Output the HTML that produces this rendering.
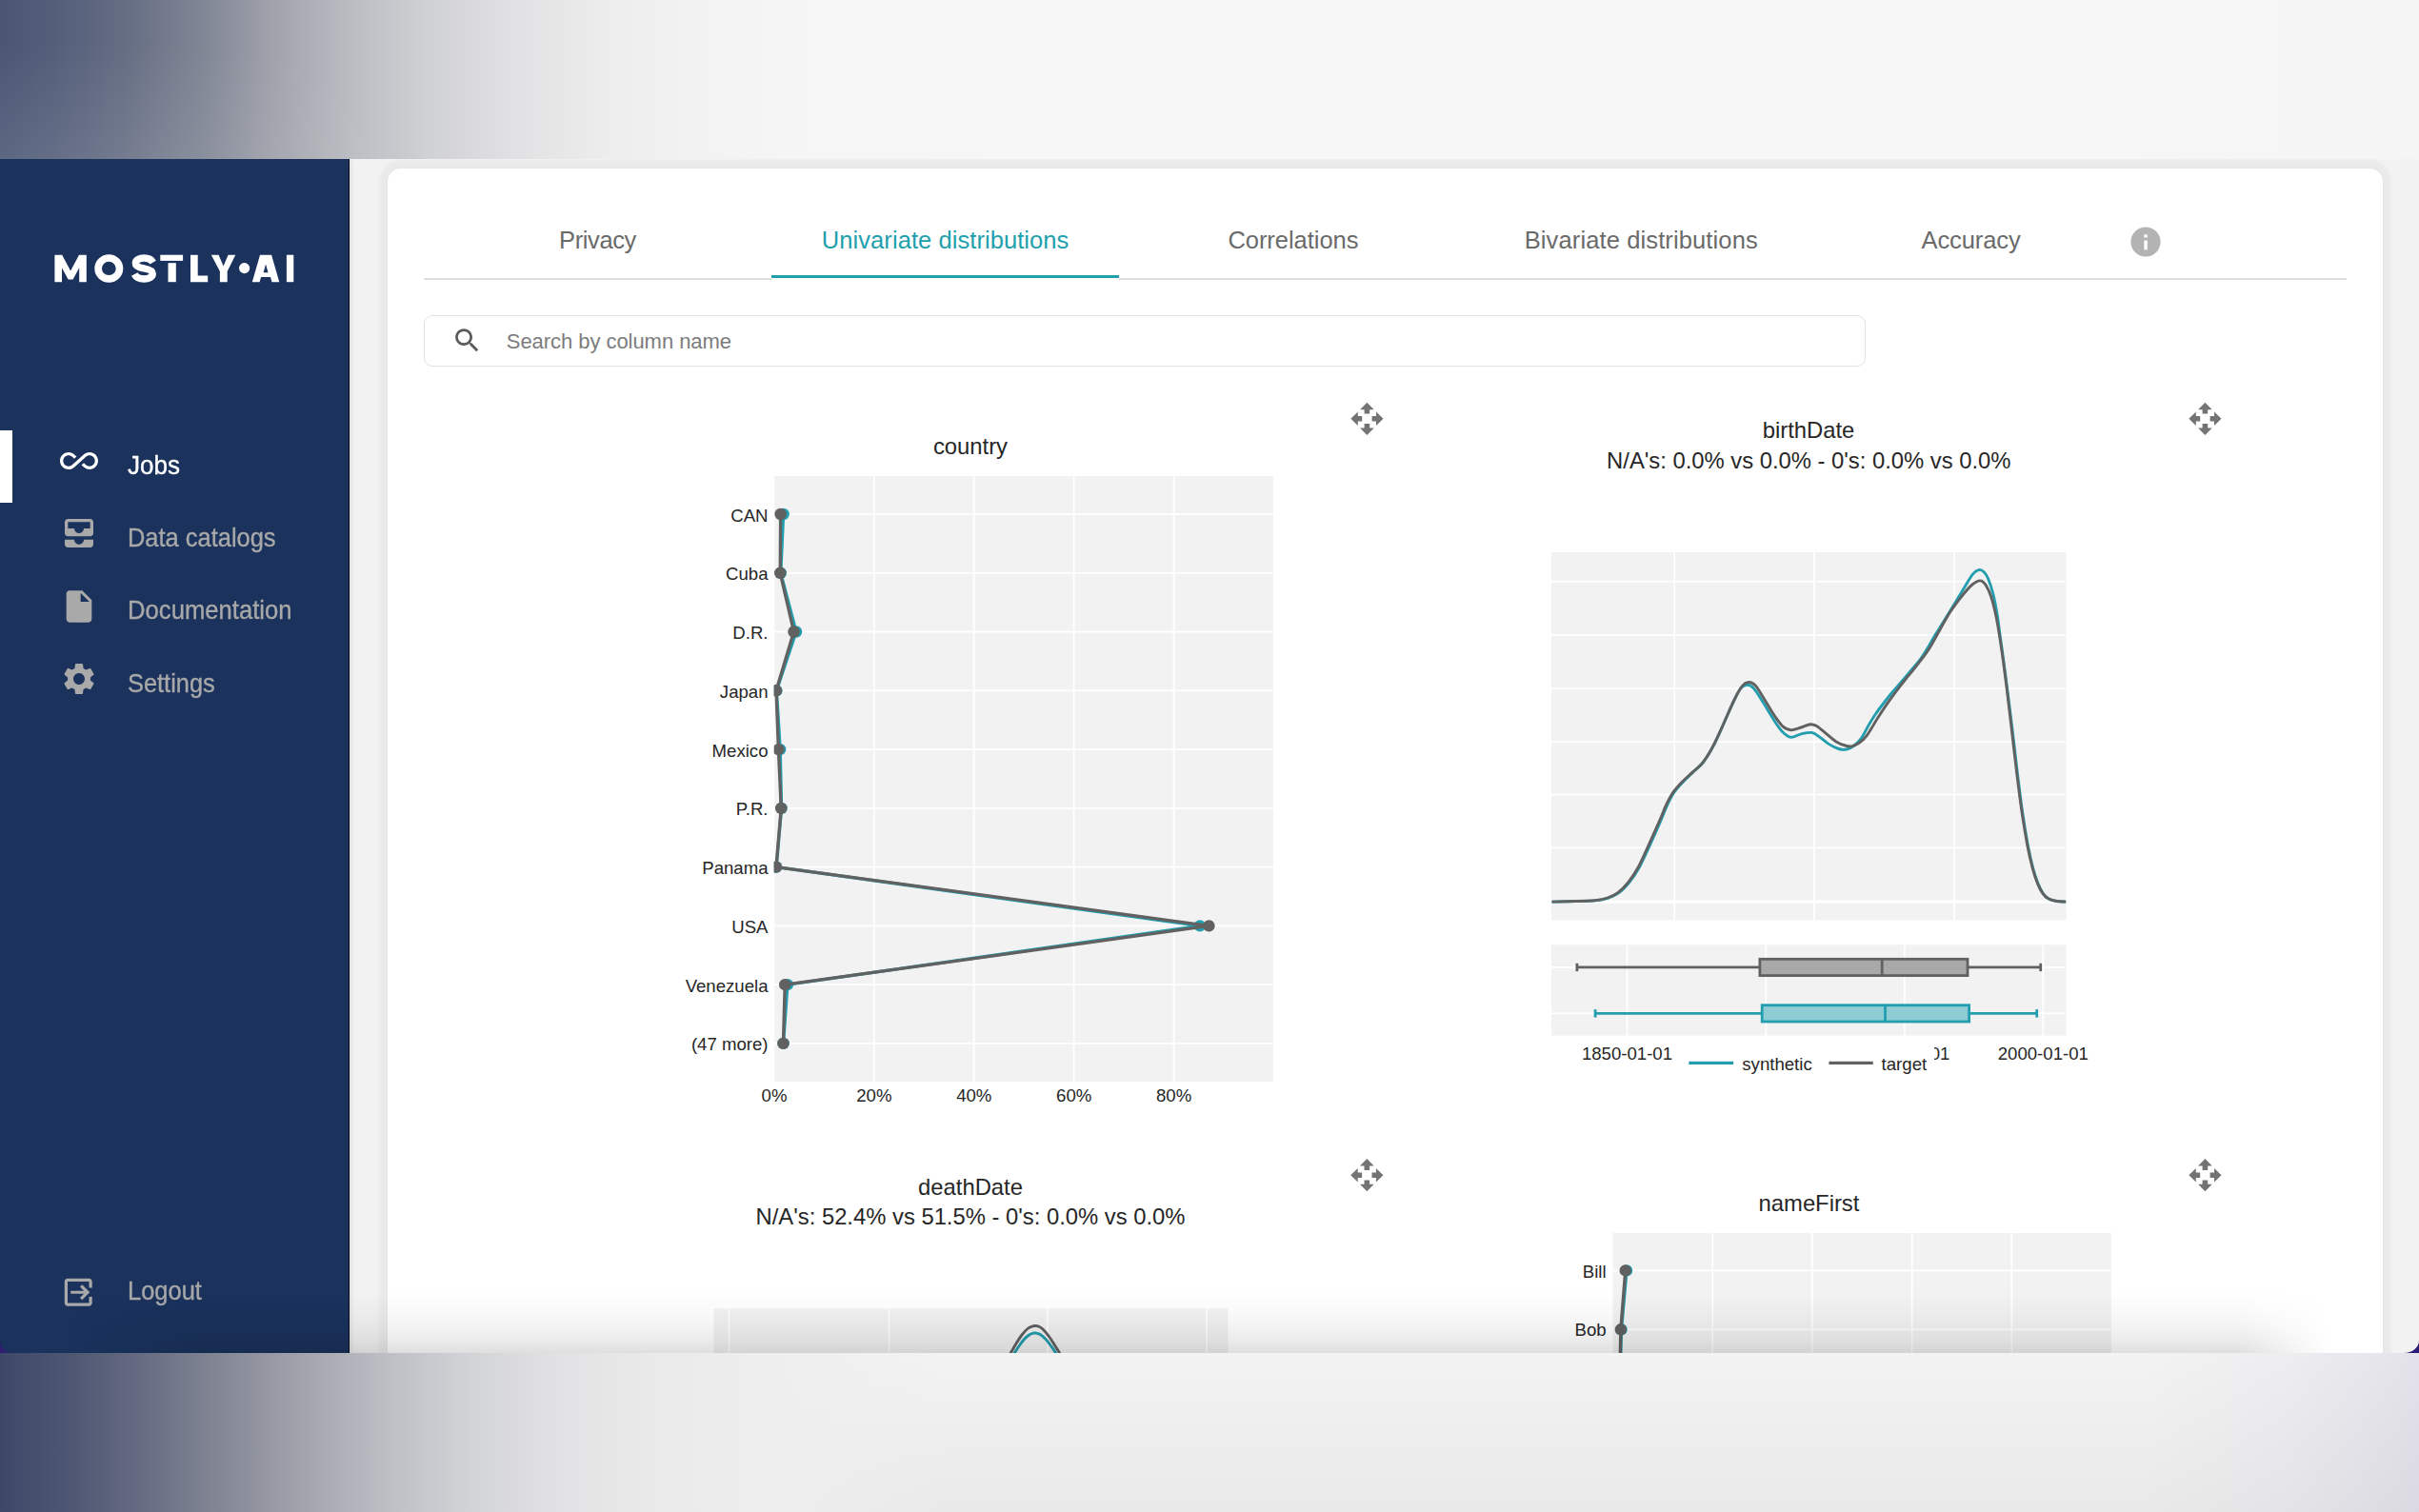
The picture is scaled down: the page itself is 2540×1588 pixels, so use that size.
<!DOCTYPE html>
<html>
<head>
<meta charset="utf-8">
<title>MOSTLY AI - Univariate distributions</title>
<style>
html,body{margin:0;padding:0;}
body{width:2540px;height:1588px;position:relative;overflow:hidden;background:#f1f1f1;font-family:"Liberation Sans",sans-serif;}
.abs{position:absolute;}
#app{position:absolute;left:0;top:167px;width:2540px;height:1254px;background:#f2f2f2;overflow:hidden;}
#topband{position:absolute;left:0;top:0;width:2540px;height:167px;
 background:linear-gradient(90deg,#4a5674 0px,#545f7a 60px,#656d83 130px,#7f8594 210px,#a2a4ad 290px,#bcbdc3 370px,#d0d1d4 450px,#e1e1e3 540px,#ececed 630px,#f2f2f2 720px,#f6f6f6 850px,#f7f7f7 1100px,#f7f7f7 2200px,#f5f5f5 2540px);}
#botband{position:absolute;left:0;top:1421px;width:2540px;height:167px;
 background:linear-gradient(90deg,rgba(90,80,160,0) 2250px,rgba(90,80,160,0.035) 2400px,rgba(90,80,160,0.10) 2540px),
 linear-gradient(90deg,#3d4768 0px,#4d5672 70px,#666c82 150px,#868a97 240px,#a3a5ae 320px,#bebfc5 408px,#d3d4d7 498px,#e2e2e4 588px,#eaeaeb 690px,#eeeeee 810px,rgba(238,238,238,0) 1000px),
 linear-gradient(180deg,#f3f3f3 0%,#e9e9e9 100%);}
#sidebar{position:absolute;left:0;top:0;width:367px;height:1254px;background:#1a325c;box-shadow:inset -1px 0 0 #050c22,2px 0 4px rgba(0,0,0,0.09);}
.nav{position:absolute;left:133.5px;-webkit-text-stroke:0.35px currentColor;transform-origin:0 50%;font-size:27.6px;color:#a8a8a8;white-space:nowrap;line-height:30px;}
.nav.on{color:#fff;}
.ico{position:absolute;width:40px;height:40px;left:62.5px;}
.ico svg{width:40px;height:40px;display:block;}
#card{position:absolute;left:407px;top:10px;width:2095px;height:1300px;background:#fff;border-radius:14px;box-shadow:0 0 3px 9px rgba(0,0,0,0.03),0 0 3px rgba(0,0,0,0.05);}
.tab{position:absolute;font-size:25.5px;color:#6a6a6a;white-space:nowrap;line-height:30px;transform-origin:0 0;}
.ct{position:absolute;color:#262626;white-space:nowrap;text-align:center;}
.tk{position:absolute;color:#262626;white-space:nowrap;font-size:18.6px;line-height:20px;}
</style>
</head>
<body>
<div id="topband"><div class="abs" style="left:0;top:0;width:420px;height:167px;background:linear-gradient(180deg,rgba(255,255,255,0) 25%,rgba(255,255,255,0.10) 100%);-webkit-mask-image:linear-gradient(90deg,#000 0px,#000 160px,transparent 420px);mask-image:linear-gradient(90deg,#000 0px,#000 160px,transparent 420px)"></div></div>
<div id="app">
  <div id="sidebar">
    <svg class="abs" style="left:0;top:0" width="367" height="200" viewBox="0 167 367 200">
      <g fill="#fff">
        <path d="M57.4,296.2V267.7H65.2L74.1,284.5L83,267.7H90.8V296.2H83.2V281.2L76.6,293.5H71.6L65,281.2V296.2Z"/>
        <ellipse cx="114.3" cy="281.95" rx="11.2" ry="10.9" fill="none" stroke="#fff" stroke-width="7.6"/>
        <path d="M160.6,275.6C158.8,272.6 155.6,271.1 151.3,271.1C146.2,271.1 142.4,273.2 142.4,276.6C142.4,279.6 144.8,280.9 151,281.9C157.4,283 160.2,284.4 160.2,287.6C160.2,291 156.5,293 151.2,293C146.4,293 143,291.3 141.2,288" fill="none" stroke="#fff" stroke-width="7.5"/>
        <rect x="168.3" y="267.7" width="23.8" height="6.2"/>
        <rect x="176.5" y="276.2" width="8.3" height="20"/>
        <path d="M200,267.7H207.7V289.5H218.2V296.2H200Z"/>
        <path d="M221.8,267.7H229.6L234.6,279.5L239.6,267.7H247.3L238.7,285V296.2H230.9V285Z"/>
        <circle cx="256.6" cy="281.6" r="5.6"/>
        <path fill-rule="evenodd" d="M264.8,296.2L273,267.7H285.1L293.3,296.2H285.5L284,291H274.1L272.6,296.2ZM279.05,277.6L276.6,286.2H281.5Z"/>
        <rect x="300.9" y="267.7" width="7.4" height="28.5"/>
      </g>
    </svg>
    <div class="abs" style="left:0;top:285px;width:13px;height:76px;background:#fff"></div>
    <div class="ico" style="top:296.8px"><svg viewBox="0 0 24 24" fill="#fff"><path d="M18.6 6.62c-1.44 0-2.8.56-3.77 1.53L12 10.66 10.48 12h.01L7.8 14.39c-.64.64-1.49.99-2.4.99-1.87 0-3.39-1.51-3.39-3.38S3.53 8.62 5.4 8.62c.91 0 1.76.35 2.44 1.03l1.13 1 1.51-1.34L9.22 8.2C8.2 7.18 6.84 6.62 5.4 6.62 2.42 6.62 0 9.04 0 12s2.42 5.38 5.4 5.38c1.44 0 2.8-.56 3.77-1.53l2.83-2.5.01.01L13.52 12h-.01l2.69-2.39c.64-.64 1.49-.99 2.4-.99 1.87 0 3.39 1.51 3.39 3.38s-1.52 3.38-3.39 3.38c-.9 0-1.76-.35-2.44-1.03l-1.14-1.01-1.51 1.34 1.27 1.12c1.02 1.01 2.37 1.57 3.82 1.57 2.98 0 5.4-2.41 5.4-5.38s-2.42-5.37-5.4-5.37z"/></svg></div>
    <div class="nav on" style="top:306.7px;transform:scaleX(0.943)">Jobs</div>
    <div class="ico" style="top:372.9px"><svg viewBox="0 0 24 24" fill="#a9a9a9"><path d="M19 3H5c-1.1 0-2 .9-2 2v7c0 1.1.9 2 2 2h14c1.1 0 2-.9 2-2V5c0-1.1-.9-2-2-2zm0 6h-4c0 1.62-1.38 3-3 3s-3-1.38-3-3H5V5h14v4zm-4 7h6v3c0 1.1-.9 2-2 2H5c-1.1 0-2-.9-2-2v-3h6c0 1.66 1.34 3 3 3s3-1.34 3-3z"/></svg></div>
    <div class="nav" style="top:382.8px;transform:scaleX(0.922)">Data catalogs</div>
    <div class="ico" style="top:449.5px"><svg viewBox="0 0 24 24" fill="#a9a9a9"><path d="M6 2c-1.1 0-1.99.9-1.99 2L4 20c0 1.1.89 2 1.99 2H18c1.1 0 2-.9 2-2V8l-6-6H6zm7 7V3.5L18.5 9H13z"/></svg></div>
    <div class="nav" style="top:458.8px;transform:scaleX(0.93)">Documentation</div>
    <div class="ico" style="top:525.5px"><svg viewBox="0 0 24 24" fill="#a9a9a9"><path d="M19.14 12.94c.04-.3.06-.61.06-.94 0-.32-.02-.64-.07-.94l2.03-1.58c.18-.14.23-.41.12-.61l-1.92-3.32c-.12-.22-.37-.29-.59-.22l-2.39.96c-.5-.38-1.03-.7-1.62-.94l-.36-2.54c-.04-.24-.24-.41-.48-.41h-3.84c-.24 0-.43.17-.47.41l-.36 2.54c-.59.24-1.13.57-1.62.94l-2.39-.96c-.22-.08-.47 0-.59.22L2.74 8.87c-.12.21-.08.47.12.61l2.03 1.58c-.05.3-.09.63-.09.94s.02.64.07.94l-2.03 1.58c-.18.14-.23.41-.12.61l1.92 3.32c.12.22.37.29.59.22l2.39-.96c.5.38 1.03.7 1.62.94l.36 2.54c.05.24.24.41.48.41h3.84c.24 0 .44-.17.47-.41l.36-2.54c.59-.24 1.13-.56 1.62-.94l2.39.96c.22.08.47 0 .59-.22l1.92-3.32c.12-.22.07-.47-.12-.61l-2.01-1.58zM12 15.6c-1.98 0-3.6-1.62-3.6-3.6s1.62-3.6 3.6-3.6 3.6 1.62 3.6 3.6-1.62 3.6-3.6 3.6z"/></svg></div>
    <div class="nav" style="top:535.5px;transform:scaleX(0.92)">Settings</div>
    <div class="ico" style="top:1171px;left:63.4px"><svg viewBox="0 0 24 24" fill="#a9a9a9" style="width:38.5px;height:38.5px"><path d="M19 3H5c-1.1 0-2 .9-2 2v14c0 1.1.9 2 2 2h14c1.1 0 2-.9 2-2v-4h-2v4H5V5h14v4h2V5c0-1.1-.9-2-2-2z"/><path d="M13.09 15.59L14.5 17l5-5-5-5-1.41 1.41L15.67 11H7v2h8.67l-2.58 2.59z"/></svg></div>
    <div class="nav" style="top:1173.5px;transform:scaleX(0.923)">Logout</div>
  </div>
  <div id="card">
    <!-- tabs -->
    <div class="abs" style="left:38px;top:115.2px;width:365px;height:2px;background:#dedede"></div>
    <div class="abs" style="left:768px;top:115.2px;width:1289px;height:2px;background:#dedede"></div>
    <div class="abs" style="left:403px;top:111.9px;width:365px;height:3.1px;background:#219fad"></div>
    <div class="tab" id="t1" style="left:180px;top:60.1px;letter-spacing:-0.38px">Privacy</div>
    <div class="tab" id="t2" style="left:455.8px;top:60.1px;letter-spacing:0.07px;color:#219fad">Univariate distributions</div>
    <div class="tab" id="t3" style="left:882.4px;top:60.1px;letter-spacing:-0.04px">Correlations</div>
    <div class="tab" id="t4" style="left:1193.7px;top:60.1px;letter-spacing:0.12px">Bivariate distributions</div>
    <div class="tab" id="t5" style="left:1610.5px;top:60.1px;letter-spacing:-0.1px">Accuracy</div>
    <svg class="abs" style="left:1829.5px;top:60.6px" width="32" height="32" viewBox="0 0 32 32"><circle cx="16" cy="16" r="15.6" fill="#b3b3b3"/><rect x="14.3" y="14.6" width="3.5" height="9.7" fill="#fff"/><rect x="14.3" y="8.3" width="3.5" height="3.2" fill="#fff"/></svg>
    <!-- search -->
    <div class="abs" style="left:38px;top:154px;width:1512px;height:52px;border:1.5px solid #e2e2e2;border-radius:9px;box-sizing:content-box"></div>
    <svg class="abs" style="left:67.3px;top:164.1px" width="33" height="33" viewBox="0 0 24 24" fill="#5a5a5a"><path d="M15.5 14h-.79l-.28-.27C15.41 12.59 16 11.11 16 9.5 16 5.91 13.09 3 9.5 3S3 5.91 3 9.5 5.91 16 9.5 16c1.61 0 3.09-.59 4.23-1.57l.27.28v.79l5 4.99L20.49 19l-4.99-5zm-6 0C7.01 14 5 11.99 5 9.500000000000002S7.01 5 9.500000000000002 5 14 7.01 14 9.500000000000002 11.99 14 9.5 14z"/></svg>
    <div class="tab" id="ph" style="left:124.8px;top:168.6px;font-size:22px;color:#7c7c7c;line-height:26px;letter-spacing:-0.05px">Search by column name</div>
    <svg class="abs" style="left:-407px;top:-10px" width="2540" height="1254" viewBox="0 167 2540 1254" font-family="Liberation Sans, sans-serif"><rect x="812.7" y="500" width="524.3" height="636" fill="#f2f2f2"/><rect x="916.90" y="500" width="1.8" height="636" fill="#fff"/><rect x="1021.70" y="500" width="1.8" height="636" fill="#fff"/><rect x="1126.70" y="500" width="1.8" height="636" fill="#fff"/><rect x="1231.70" y="500" width="1.8" height="636" fill="#fff"/><rect x="812.7" y="539.10" width="524.3" height="1.8" fill="#fff"/><rect x="812.7" y="600.87" width="524.3" height="1.8" fill="#fff"/><rect x="812.7" y="662.64" width="524.3" height="1.8" fill="#fff"/><rect x="812.7" y="724.41" width="524.3" height="1.8" fill="#fff"/><rect x="812.7" y="786.18" width="524.3" height="1.8" fill="#fff"/><rect x="812.7" y="847.95" width="524.3" height="1.8" fill="#fff"/><rect x="812.7" y="909.72" width="524.3" height="1.8" fill="#fff"/><rect x="812.7" y="971.49" width="524.3" height="1.8" fill="#fff"/><rect x="812.7" y="1033.26" width="524.3" height="1.8" fill="#fff"/><rect x="812.7" y="1095.03" width="524.3" height="1.8" fill="#fff"/><rect x="812.10" y="500" width="1.2" height="636" fill="#fff"/><clipPath id="cp1"><rect x="812.7" y="500" width="524.3" height="636"/></clipPath><g clip-path="url(#cp1)"><polyline points="822.6,540.0 819.8,601.8 836.0,663.5 815.4,725.3 819.2,787.1 820.6,848.9 815.2,910.6 1259.9,972.4 826.9,1034.2 822.6,1095.9" fill="none" stroke="#229eae" stroke-width="3.3" stroke-linejoin="round" stroke-linecap="round"/><circle cx="822.6" cy="540.0" r="6.2" fill="#229eae"/><circle cx="819.8" cy="601.8" r="6.2" fill="#229eae"/><circle cx="836.0" cy="663.5" r="6.2" fill="#229eae"/><circle cx="815.4" cy="725.3" r="6.2" fill="#229eae"/><circle cx="819.2" cy="787.1" r="6.2" fill="#229eae"/><circle cx="820.6" cy="848.9" r="6.2" fill="#229eae"/><circle cx="815.2" cy="910.6" r="6.2" fill="#229eae"/><circle cx="1259.9" cy="972.4" r="6.2" fill="#229eae"/><circle cx="826.9" cy="1034.2" r="6.2" fill="#229eae"/><circle cx="822.6" cy="1095.9" r="6.2" fill="#229eae"/><polyline points="819.6,540.0 819.2,601.8 833.5,663.5 815.0,725.3 817.4,787.1 820.2,848.9 815.0,910.6 1269.4,972.4 824.2,1034.2 822.4,1095.9" fill="none" stroke="#616161" stroke-width="3.3" stroke-linejoin="round" stroke-linecap="round"/><circle cx="819.6" cy="540.0" r="6.2" fill="#616161"/><circle cx="819.2" cy="601.8" r="6.2" fill="#616161"/><circle cx="833.5" cy="663.5" r="6.2" fill="#616161"/><circle cx="815.0" cy="725.3" r="6.2" fill="#616161"/><circle cx="817.4" cy="787.1" r="6.2" fill="#616161"/><circle cx="820.2" cy="848.9" r="6.2" fill="#616161"/><circle cx="815.0" cy="910.6" r="6.2" fill="#616161"/><circle cx="1269.4" cy="972.4" r="6.2" fill="#616161"/><circle cx="824.2" cy="1034.2" r="6.2" fill="#616161"/><circle cx="822.4" cy="1095.9" r="6.2" fill="#616161"/></g><text x="806.5" y="547.5" font-size="18.6" text-anchor="end" fill="#262626" >CAN</text><text x="806.5" y="609.27" font-size="18.6" text-anchor="end" fill="#262626" >Cuba</text><text x="806.5" y="671.04" font-size="18.6" text-anchor="end" fill="#262626" >D.R.</text><text x="806.5" y="732.81" font-size="18.6" text-anchor="end" fill="#262626" >Japan</text><text x="806.5" y="794.58" font-size="18.6" text-anchor="end" fill="#262626" >Mexico</text><text x="806.5" y="856.35" font-size="18.6" text-anchor="end" fill="#262626" >P.R.</text><text x="806.5" y="918.12" font-size="18.6" text-anchor="end" fill="#262626" >Panama</text><text x="806.5" y="979.8900000000001" font-size="18.6" text-anchor="end" fill="#262626" >USA</text><text x="806.5" y="1041.66" font-size="18.6" text-anchor="end" fill="#262626" >Venezuela</text><text x="806.5" y="1103.43" font-size="18.6" text-anchor="end" fill="#262626" >(47 more)</text><text x="813.0" y="1156.8" font-size="18.6" text-anchor="middle" fill="#262626" >0%</text><text x="917.9" y="1156.8" font-size="18.6" text-anchor="middle" fill="#262626" >20%</text><text x="1022.8" y="1156.8" font-size="18.6" text-anchor="middle" fill="#262626" >40%</text><text x="1127.7" y="1156.8" font-size="18.6" text-anchor="middle" fill="#262626" >60%</text><text x="1232.6" y="1156.8" font-size="18.6" text-anchor="middle" fill="#262626" >80%</text><text x="1019" y="477" font-size="23.8" text-anchor="middle" fill="#262626" >country</text><g transform="translate(1435.4,439.8)" fill="#737373"><path transform="rotate(0)" d="M0,-17.1L7.3,-9.6H2.8V-5.2H-2.8V-9.6H-7.3Z"/><path transform="rotate(90)" d="M0,-17.1L7.3,-9.6H2.8V-5.2H-2.8V-9.6H-7.3Z"/><path transform="rotate(180)" d="M0,-17.1L7.3,-9.6H2.8V-5.2H-2.8V-9.6H-7.3Z"/><path transform="rotate(270)" d="M0,-17.1L7.3,-9.6H2.8V-5.2H-2.8V-9.6H-7.3Z"/></g>
<rect x="1629" y="580" width="540.5" height="386.5" fill="#f2f2f2"/><rect x="1757.30" y="580" width="1.8" height="386.5" fill="#fff"/><rect x="1904.00" y="580" width="1.8" height="386.5" fill="#fff"/><rect x="2051.10" y="580" width="1.8" height="386.5" fill="#fff"/><rect x="1629" y="609.80" width="540.5" height="1.8" fill="#fff"/><rect x="1629" y="666.00" width="540.5" height="1.8" fill="#fff"/><rect x="1629" y="722.30" width="540.5" height="1.8" fill="#fff"/><rect x="1629" y="778.30" width="540.5" height="1.8" fill="#fff"/><rect x="1629" y="833.70" width="540.5" height="1.8" fill="#fff"/><rect x="1629" y="889.50" width="540.5" height="1.8" fill="#fff"/><rect x="1629" y="945.50" width="540.5" height="3.2" fill="#fff"/><clipPath id="cp2"><rect x="1629" y="580" width="540.5" height="386.5"/></clipPath><g clip-path="url(#cp2)"><path d="M1629.5,947.1C1632.4,947.0 1639.5,946.9 1647.0,946.7C1654.5,946.5 1667.4,946.5 1674.3,945.9C1681.2,945.3 1684.1,944.6 1688.3,943.3C1692.5,942.0 1695.8,940.6 1699.5,937.9C1703.2,935.2 1706.8,931.5 1710.5,927.0C1714.2,922.5 1717.8,917.3 1721.4,910.7C1725.1,904.1 1728.8,895.5 1732.4,887.6C1736.1,879.7 1740.2,870.4 1743.3,863.2C1746.4,856.0 1748.8,849.6 1751.2,844.5C1753.6,839.4 1755.2,836.1 1757.8,832.3C1760.4,828.4 1763.7,824.9 1767.0,821.4C1770.3,817.9 1774.1,814.6 1777.6,811.2C1781.1,807.8 1784.6,805.6 1788.2,801.0C1791.8,796.4 1795.5,790.1 1799.1,783.4C1802.7,776.6 1806.2,768.3 1809.7,760.5C1813.2,752.7 1817.4,742.7 1820.4,736.5C1823.4,730.3 1825.2,726.3 1827.5,723.4C1829.8,720.5 1832.0,719.3 1834.3,719.2C1836.6,719.1 1838.6,719.9 1841.5,723.0C1844.4,726.1 1848.0,732.5 1851.5,738.0C1855.0,743.5 1859.2,750.9 1862.5,756.0C1865.8,761.1 1868.5,765.5 1871.5,768.5C1874.5,771.5 1877.2,773.9 1880.5,774.3C1883.8,774.7 1887.7,771.6 1891.3,770.8C1894.9,770.0 1899.2,769.0 1902.2,769.4C1905.2,769.8 1906.1,770.9 1909.0,772.9C1911.9,774.9 1916.2,778.8 1919.8,781.1C1923.4,783.4 1927.5,785.5 1930.7,786.5C1933.9,787.5 1936.1,787.6 1938.8,787.0C1941.5,786.4 1944.4,785.0 1947.0,783.0C1949.6,781.0 1952.1,778.5 1954.6,775.0C1957.1,771.5 1959.5,766.1 1961.9,762.0C1964.3,757.9 1966.5,754.2 1969.0,750.5C1971.5,746.8 1973.7,743.9 1976.7,740.0C1979.7,736.1 1983.6,731.1 1987.0,727.0C1990.4,722.9 1993.7,719.4 1997.0,715.5C2000.3,711.6 2003.7,707.7 2007.0,703.7C2010.3,699.7 2014.0,695.6 2017.0,691.5C2020.0,687.4 2022.5,683.0 2025.0,679.0C2027.5,675.0 2029.0,671.7 2031.7,667.3C2034.4,662.9 2038.0,657.4 2041.0,652.5C2044.0,647.6 2047.0,642.8 2049.9,638.0C2052.8,633.2 2056.2,627.6 2058.4,624.0C2060.6,620.4 2060.8,620.0 2063.0,616.4C2065.2,612.8 2069.2,605.6 2071.8,602.6C2074.4,599.6 2076.5,598.7 2078.4,598.4C2080.3,598.1 2081.9,599.5 2083.4,601.0C2084.9,602.5 2086.0,603.8 2087.6,607.7C2089.2,611.6 2091.4,618.0 2093.0,624.5C2094.6,631.0 2096.1,639.2 2097.3,646.5C2098.5,653.8 2099.1,660.1 2100.2,668.0C2101.3,675.9 2102.6,685.0 2103.8,694.0C2105.0,703.0 2105.9,709.5 2107.5,722.0C2109.1,734.5 2111.4,753.5 2113.3,769.0C2115.2,784.5 2116.9,800.6 2118.7,815.0C2120.5,829.4 2122.2,843.3 2124.0,855.5C2125.8,867.7 2127.6,878.5 2129.4,888.0C2131.2,897.5 2133.0,905.5 2134.8,912.2C2136.6,918.9 2138.3,924.0 2140.1,928.4C2141.9,932.8 2143.6,936.0 2145.4,938.6C2147.2,941.2 2148.5,942.4 2150.7,943.7C2152.9,945.0 2155.7,945.8 2158.8,946.4C2161.9,947.0 2167.6,947.0 2169.4,947.1" fill="none" stroke="#229eae" stroke-width="2.9" stroke-linejoin="round" stroke-linecap="butt"/><path d="M1629.5,947.1C1632.4,947.0 1639.5,946.9 1647.0,946.7C1654.5,946.5 1667.5,946.4 1674.3,945.8C1681.1,945.2 1683.7,944.4 1687.8,943.0C1691.9,941.6 1695.1,940.3 1698.7,937.6C1702.3,934.9 1705.9,931.3 1709.5,926.8C1713.1,922.3 1716.8,917.1 1720.4,910.5C1724.0,903.9 1727.6,895.3 1731.2,887.4C1734.8,879.5 1738.9,870.2 1742.1,863.0C1745.3,855.8 1747.7,849.2 1750.2,844.0C1752.7,838.8 1754.3,835.6 1757.0,831.8C1759.7,828.0 1763.1,824.5 1766.5,821.0C1769.9,817.5 1773.8,814.3 1777.4,810.9C1781.0,807.5 1784.6,805.2 1788.2,800.6C1791.8,796.0 1795.5,789.8 1799.1,783.0C1802.7,776.2 1806.3,767.8 1809.9,759.9C1813.5,752.0 1817.6,742.0 1820.8,735.5C1824.0,729.0 1826.3,724.3 1828.9,721.1C1831.5,717.9 1833.7,716.6 1836.2,716.5C1838.7,716.4 1841.0,717.4 1843.8,720.6C1846.6,723.8 1849.9,730.1 1853.3,735.5C1856.7,740.9 1861.0,748.5 1864.2,753.1C1867.4,757.7 1869.6,760.9 1872.3,763.2C1875.0,765.5 1877.3,766.6 1880.5,766.7C1883.7,766.8 1887.9,765.0 1891.3,764.0C1894.7,763.0 1898.2,760.9 1900.9,760.7C1903.6,760.5 1904.9,761.0 1907.6,762.6C1910.3,764.2 1913.7,767.5 1917.1,770.2C1920.5,772.9 1924.6,776.8 1928.0,778.9C1931.4,781.0 1934.8,782.2 1937.5,783.0C1940.2,783.8 1941.8,784.3 1944.3,783.8C1946.8,783.3 1949.7,782.2 1952.4,780.2C1955.1,778.2 1957.3,776.4 1960.5,772.1C1963.7,767.8 1967.8,760.1 1971.4,754.5C1975.0,748.9 1978.6,743.4 1982.2,738.2C1985.8,733.0 1989.5,728.0 1993.1,723.3C1996.7,718.5 2000.3,714.2 2003.9,709.7C2007.5,705.2 2011.2,701.0 2014.8,696.2C2018.4,691.5 2022.1,686.9 2025.7,681.2C2029.3,675.5 2032.9,668.5 2036.5,662.2C2040.1,655.9 2043.8,648.9 2047.4,643.3C2051.0,637.6 2054.6,632.9 2058.2,628.3C2061.8,623.7 2066.2,618.5 2069.1,615.6C2072.0,612.7 2073.9,611.6 2075.8,610.7C2077.7,609.8 2079.1,609.5 2080.7,610.2C2082.3,610.9 2083.6,612.0 2085.3,614.8C2087.0,617.6 2089.0,621.4 2090.8,627.0C2092.6,632.6 2094.4,639.7 2096.2,648.7C2098.0,657.7 2099.8,669.0 2101.6,681.2C2103.4,693.4 2105.2,707.4 2107.0,721.9C2108.8,736.4 2110.7,752.6 2112.5,768.0C2114.3,783.4 2116.1,799.7 2117.9,814.2C2119.7,828.7 2121.5,842.7 2123.3,854.9C2125.1,867.1 2126.9,877.9 2128.7,887.4C2130.5,896.9 2132.4,905.0 2134.2,911.8C2136.0,918.6 2137.8,923.7 2139.6,928.1C2141.4,932.5 2143.2,935.8 2145.0,938.4C2146.8,941.0 2148.1,942.3 2150.4,943.6C2152.7,944.9 2155.4,945.7 2158.6,946.3C2161.8,946.9 2167.6,947.0 2169.4,947.1" fill="none" stroke="#616161" stroke-width="2.9" stroke-linejoin="round" stroke-linecap="butt"/></g><rect x="1629" y="992.3" width="540.5" height="95.20000000000005" fill="#f2f2f2"/><rect x="1707.60" y="992.3" width="1.8" height="95.20000000000005" fill="#fff"/><rect x="1853.40" y="992.3" width="1.8" height="95.20000000000005" fill="#fff"/><rect x="1998.90" y="992.3" width="1.8" height="95.20000000000005" fill="#fff"/><rect x="2144.40" y="992.3" width="1.8" height="95.20000000000005" fill="#fff"/><rect x="1629" y="1015.00" width="540.5" height="1.8" fill="#fff"/><rect x="1629" y="1063.40" width="540.5" height="1.8" fill="#fff"/><line x1="1655.9" y1="1015.9499999999999" x2="1847.9" y2="1015.9499999999999" stroke="#616161" stroke-width="2.8"/><line x1="2066" y1="1015.9499999999999" x2="2142.7" y2="1015.9499999999999" stroke="#616161" stroke-width="2.8"/><line x1="1655.9" y1="1011.7499999999999" x2="1655.9" y2="1020.15" stroke="#616161" stroke-width="2.8"/><line x1="2142.7" y1="1011.7499999999999" x2="2142.7" y2="1020.15" stroke="#616161" stroke-width="2.8"/><rect x="1847.9" y="1007.3" width="218.0999999999999" height="17.299999999999955" fill="#a9a9a9" stroke="#616161" stroke-width="2.8"/><line x1="1976.2" y1="1007.3" x2="1976.2" y2="1024.6" stroke="#616161" stroke-width="2.8"/><line x1="1675.1" y1="1064.35" x2="1850.2" y2="1064.35" stroke="#229eae" stroke-width="2.8"/><line x1="2067.6" y1="1064.35" x2="2138.7" y2="1064.35" stroke="#229eae" stroke-width="2.8"/><line x1="1675.1" y1="1060.1499999999999" x2="1675.1" y2="1068.55" stroke="#229eae" stroke-width="2.8"/><line x1="2138.7" y1="1060.1499999999999" x2="2138.7" y2="1068.55" stroke="#229eae" stroke-width="2.8"/><rect x="1850.2" y="1055.7" width="217.39999999999986" height="17.299999999999955" fill="#8fcbd3" stroke="#229eae" stroke-width="2.8"/><line x1="1979.5" y1="1055.7" x2="1979.5" y2="1073" stroke="#229eae" stroke-width="2.8"/><text x="1708.5" y="1112.6" font-size="18.6" text-anchor="middle" fill="#262626" >1850-01-01</text><text x="1854.3" y="1112.6" font-size="18.6" text-anchor="middle" fill="#262626" >1900-01-01</text><text x="1999.8" y="1112.6" font-size="18.6" text-anchor="middle" fill="#262626" >1950-01-01</text><text x="2145.3" y="1112.6" font-size="18.6" text-anchor="middle" fill="#262626" >2000-01-01</text><rect x="1767" y="1095" width="264" height="42" fill="#fff"/><line x1="1773.3" y1="1116.3" x2="1820.2" y2="1116.3" stroke="#229eae" stroke-width="3.3"/><text x="1829.3" y="1123.6" font-size="18.6" text-anchor="start" fill="#262626" >synthetic</text><line x1="1920.4" y1="1116.3" x2="1966.7" y2="1116.3" stroke="#616161" stroke-width="3.3"/><text x="1975.6" y="1123.6" font-size="18.6" text-anchor="start" fill="#262626" >target</text><text x="1899" y="460.1" font-size="23.8" text-anchor="middle" fill="#262626" >birthDate</text><text x="1899.3" y="491.8" font-size="23.8" text-anchor="middle" fill="#262626" >N/A's: 0.0% vs 0.0% - 0's: 0.0% vs 0.0%</text><g transform="translate(2315.4,439.8)" fill="#737373"><path transform="rotate(0)" d="M0,-17.1L7.3,-9.6H2.8V-5.2H-2.8V-9.6H-7.3Z"/><path transform="rotate(90)" d="M0,-17.1L7.3,-9.6H2.8V-5.2H-2.8V-9.6H-7.3Z"/><path transform="rotate(180)" d="M0,-17.1L7.3,-9.6H2.8V-5.2H-2.8V-9.6H-7.3Z"/><path transform="rotate(270)" d="M0,-17.1L7.3,-9.6H2.8V-5.2H-2.8V-9.6H-7.3Z"/></g>
<rect x="749.6" y="1374.4" width="539.6999999999999" height="55.59999999999991" fill="#f2f2f2"/><rect x="764.60" y="1374.4" width="1.8" height="55.59999999999991" fill="#fff"/><rect x="932.60" y="1374.4" width="1.8" height="55.59999999999991" fill="#fff"/><rect x="1099.20" y="1374.4" width="1.8" height="55.59999999999991" fill="#fff"/><rect x="1266.20" y="1374.4" width="1.8" height="55.59999999999991" fill="#fff"/><path d="M1050.0,1450.0C1051.3,1447.3 1055.4,1438.9 1058.0,1434.0C1060.6,1429.1 1063.3,1424.2 1065.4,1420.7C1067.5,1417.2 1068.7,1415.5 1070.5,1413.0C1072.3,1410.5 1074.2,1407.9 1076.0,1406.0C1077.8,1404.1 1079.5,1402.8 1081.0,1401.8C1082.5,1400.8 1084.0,1400.5 1085.0,1400.2C1086.0,1399.9 1086.2,1400.0 1086.9,1400.0C1087.6,1400.0 1088.0,1400.0 1089.0,1400.3C1090.0,1400.6 1091.5,1401.0 1093.0,1402.0C1094.5,1403.0 1096.2,1404.6 1098.0,1406.5C1099.8,1408.4 1101.8,1411.1 1103.5,1413.5C1105.2,1415.9 1106.3,1417.3 1108.4,1420.7C1110.5,1424.1 1113.4,1429.1 1116.0,1434.0C1118.6,1438.9 1122.7,1447.3 1124.0,1450.0" fill="none" stroke="#229eae" stroke-width="2.9" stroke-linejoin="round" stroke-linecap="butt"/><path d="M1046.0,1450.0C1047.3,1447.3 1051.4,1438.9 1054.0,1434.0C1056.6,1429.1 1059.2,1424.5 1061.4,1420.7C1063.6,1416.9 1065.1,1414.1 1067.0,1411.0C1068.9,1407.9 1071.0,1404.6 1073.0,1402.0C1075.0,1399.4 1077.2,1397.0 1079.0,1395.5C1080.8,1394.0 1082.7,1393.4 1084.0,1392.9C1085.3,1392.4 1085.9,1392.5 1086.9,1392.5C1087.9,1392.5 1088.7,1392.3 1090.0,1392.9C1091.3,1393.5 1093.2,1394.3 1095.0,1396.0C1096.8,1397.7 1099.0,1400.3 1101.0,1403.0C1103.0,1405.7 1105.1,1409.0 1107.0,1412.0C1108.9,1415.0 1110.2,1417.0 1112.4,1420.7C1114.6,1424.4 1117.4,1429.1 1120.0,1434.0C1122.6,1438.9 1126.7,1447.3 1128.0,1450.0" fill="none" stroke="#616161" stroke-width="2.9" stroke-linejoin="round" stroke-linecap="butt"/><text x="1019" y="1254.7" font-size="23.8" text-anchor="middle" fill="#262626" >deathDate</text><text x="1019" y="1286" font-size="23.8" text-anchor="middle" fill="#262626" >N/A's: 52.4% vs 51.5% - 0's: 0.0% vs 0.0%</text><g transform="translate(1435.3,1234.2)" fill="#737373"><path transform="rotate(0)" d="M0,-17.1L7.3,-9.6H2.8V-5.2H-2.8V-9.6H-7.3Z"/><path transform="rotate(90)" d="M0,-17.1L7.3,-9.6H2.8V-5.2H-2.8V-9.6H-7.3Z"/><path transform="rotate(180)" d="M0,-17.1L7.3,-9.6H2.8V-5.2H-2.8V-9.6H-7.3Z"/><path transform="rotate(270)" d="M0,-17.1L7.3,-9.6H2.8V-5.2H-2.8V-9.6H-7.3Z"/></g>
<rect x="1692.9" y="1295" width="523.9000000000001" height="135" fill="#f2f2f2"/><rect x="1797.30" y="1295" width="1.8" height="135" fill="#fff"/><rect x="1901.90" y="1295" width="1.8" height="135" fill="#fff"/><rect x="2006.80" y="1295" width="1.8" height="135" fill="#fff"/><rect x="2111.40" y="1295" width="1.8" height="135" fill="#fff"/><rect x="1692.9" y="1333.50" width="523.9000000000001" height="1.8" fill="#fff"/><rect x="1692.9" y="1395.40" width="523.9000000000001" height="1.8" fill="#fff"/><rect x="1692.30" y="1295" width="1.2" height="135" fill="#fff"/><polyline points="1708.0,1334.4 1702.5,1396.3 1701.0,1458.0" fill="none" stroke="#229eae" stroke-width="3.3" stroke-linejoin="round" stroke-linecap="round"/><circle cx="1708.0" cy="1334.4" r="6.2" fill="#229eae"/><circle cx="1702.5" cy="1396.3" r="6.2" fill="#229eae"/><polyline points="1706.7,1334.4 1701.8,1396.3 1700.5,1458.0" fill="none" stroke="#616161" stroke-width="3.3" stroke-linejoin="round" stroke-linecap="round"/><circle cx="1706.7" cy="1334.4" r="6.2" fill="#616161"/><circle cx="1701.8" cy="1396.3" r="6.2" fill="#616161"/><text x="1686.6" y="1341.5" font-size="18.6" text-anchor="end" fill="#262626" >Bill</text><text x="1686.6" y="1403.4" font-size="18.6" text-anchor="end" fill="#262626" >Bob</text><text x="1899.5" y="1271.6" font-size="23.8" text-anchor="middle" fill="#262626" >nameFirst</text><g transform="translate(2315.4,1234.2)" fill="#737373"><path transform="rotate(0)" d="M0,-17.1L7.3,-9.6H2.8V-5.2H-2.8V-9.6H-7.3Z"/><path transform="rotate(90)" d="M0,-17.1L7.3,-9.6H2.8V-5.2H-2.8V-9.6H-7.3Z"/><path transform="rotate(180)" d="M0,-17.1L7.3,-9.6H2.8V-5.2H-2.8V-9.6H-7.3Z"/><path transform="rotate(270)" d="M0,-17.1L7.3,-9.6H2.8V-5.2H-2.8V-9.6H-7.3Z"/></g></svg>
  </div>
  <div class="abs" style="left:0;top:1189px;width:2540px;height:65px;background:linear-gradient(180deg,rgba(0,0,0,0) 0%,rgba(0,0,0,0.02) 30%,rgba(0,0,0,0.04) 51%,rgba(0,0,0,0.067) 72%,rgba(0,0,0,0.106) 92%,rgba(0,0,0,0.13) 100%);-webkit-mask-image:linear-gradient(90deg,transparent 70px,#000 210px,#000 2350px,transparent 2445px);mask-image:linear-gradient(90deg,transparent 70px,#000 210px,#000 2350px,transparent 2445px)"></div>
  <svg class="abs" style="left:0;top:1238px" width="16" height="16" viewBox="0 0 16 16"><path d="M0,16V2A14,14 0 0 0 14,16Z" fill="#2d1f6e"/></svg>
  <svg class="abs" style="left:2524px;top:1241px" width="16" height="13" viewBox="0 0 16 13"><path d="M16,13V0A16,13 0 0 1 0,13Z" fill="#2a1a78"/></svg>
</div>
<div id="botband"></div>
</body>
</html>
